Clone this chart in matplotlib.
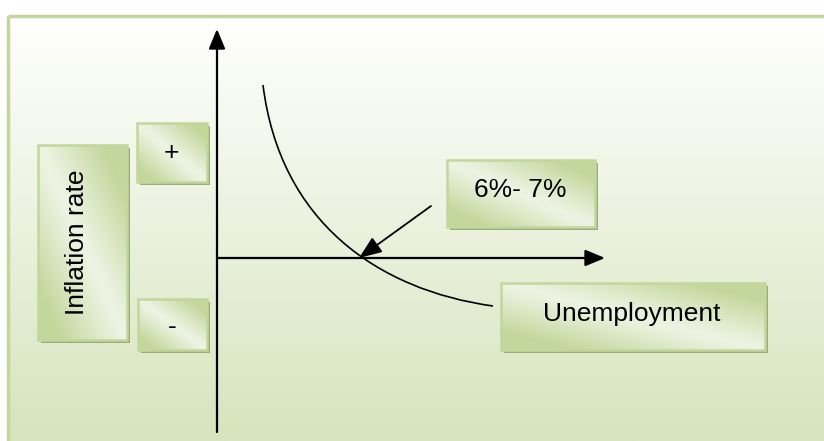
import numpy as np
import matplotlib
matplotlib.use("Agg")
import matplotlib.pyplot as plt
from matplotlib.patches import Rectangle, PathPatch
from matplotlib.path import Path
from matplotlib.colors import to_rgb

# ---- content ----
box_labels = ["Inflation rate", "+", "-", "Unemployment", "6%- 7%"]
label_rotation = [90, 0, 0, 0, 0]

curve_x = [263, 280, 378, 493]
curve_y = [85, 222, 290, 306]

# ---- layout (pixel coordinates) ----
boxes = [  # x0, y0, x1, y1
    (38, 145, 127, 340),
    (137, 123, 207, 182),
    (138, 299, 207, 350),
    (501, 283, 765, 350),
    (447, 160, 595, 227),
]
text_pos = [(77, 242), (171, 153), (172, 327), (632, 314), (520, 190)]

W, H = 824, 441
fig = plt.figure(figsize=(W / 100, H / 100), dpi=100)
ax = fig.add_axes([0, 0, 1, 1])
ax.axis("off")

# background gradient
top_c = np.array(to_rgb("#ffffff"))
bot_c = np.array(to_rgb("#d7e4bd"))
n = 200
t = np.linspace(0, 1, n)[:, None]
bg = (top_c[None, :] * (1 - t) + bot_c[None, :] * t)[:, None, :]
bg = np.repeat(bg, 2, axis=1)
ax.imshow(bg, extent=[8, W, H, 16], origin="upper", aspect="auto", zorder=0,
          interpolation="bilinear")
ax.plot([8, W], [16, 16], color="#c3d69b", lw=2.5, zorder=1, solid_capstyle="butt")
ax.plot([8, 8], [16, H], color="#c3d69b", lw=2.5, zorder=1, solid_capstyle="butt")

green = np.array(to_rgb("#c3d79c"))
light = np.array(to_rgb("#eef4e4"))


def draw_box(x0, y0, x1, y1):
    ax.add_patch(Rectangle((x0 + 3, y0 + 3), x1 - x0, y1 - y0, facecolor="#9aab7c",
                           edgecolor="none", zorder=3))
    nx, ny = 60, 60
    u = np.linspace(0, 1, nx)[None, :]
    v = np.linspace(0, 1, ny)[:, None]
    s = (u + (1 - v)) / 2.0
    f = np.clip(np.abs(2 * s - 1) * 1.35, 0, 1) ** 1.1
    img = light[None, None, :] * (1 - f[..., None]) + green[None, None, :] * f[..., None]
    ax.imshow(img, extent=[x0, x1, y1, y0], origin="upper", aspect="auto", zorder=4,
              interpolation="bilinear")
    ax.add_patch(Rectangle((x0, y0), x1 - x0, y1 - y0, facecolor="none",
                           edgecolor="#c3d69b", lw=1.8, zorder=5))


for (b, lab, rot, tp) in zip(boxes, box_labels, label_rotation, text_pos):
    draw_box(*b)
    ax.text(tp[0], tp[1], lab, rotation=rot, ha="center", va="center",
            fontsize=19, family="Liberation Sans", color="black", zorder=6)

# axes arrows
ax.annotate("", xy=(217, 29), xytext=(217, 432),
            arrowprops=dict(arrowstyle="-|>,head_length=12,head_width=5", color="black",
                            lw=1.6, shrinkA=0, shrinkB=0, mutation_scale=1), zorder=7)
ax.annotate("", xy=(605, 258), xytext=(217, 258),
            arrowprops=dict(arrowstyle="-|>,head_length=12,head_width=5", color="black",
                            lw=1.6, shrinkA=0, shrinkB=0, mutation_scale=1), zorder=7)

# curve
verts = list(zip(curve_x, curve_y))
path = Path(verts, [Path.MOVETO, Path.CURVE4, Path.CURVE4, Path.CURVE4])
ax.add_patch(PathPatch(path, facecolor="none", edgecolor="black", lw=1.2, zorder=7))

# pointer arrow
ax.annotate("", xy=(359, 258), xytext=(431, 206),
            arrowprops=dict(arrowstyle="-|>,head_length=14,head_width=5.5", color="black",
                            lw=1.3, shrinkA=0, shrinkB=0, mutation_scale=1), zorder=8)

ax.set_xlim(0, W)
ax.set_ylim(H, 0)
fig.savefig("out.png", dpi=100, facecolor="white")
